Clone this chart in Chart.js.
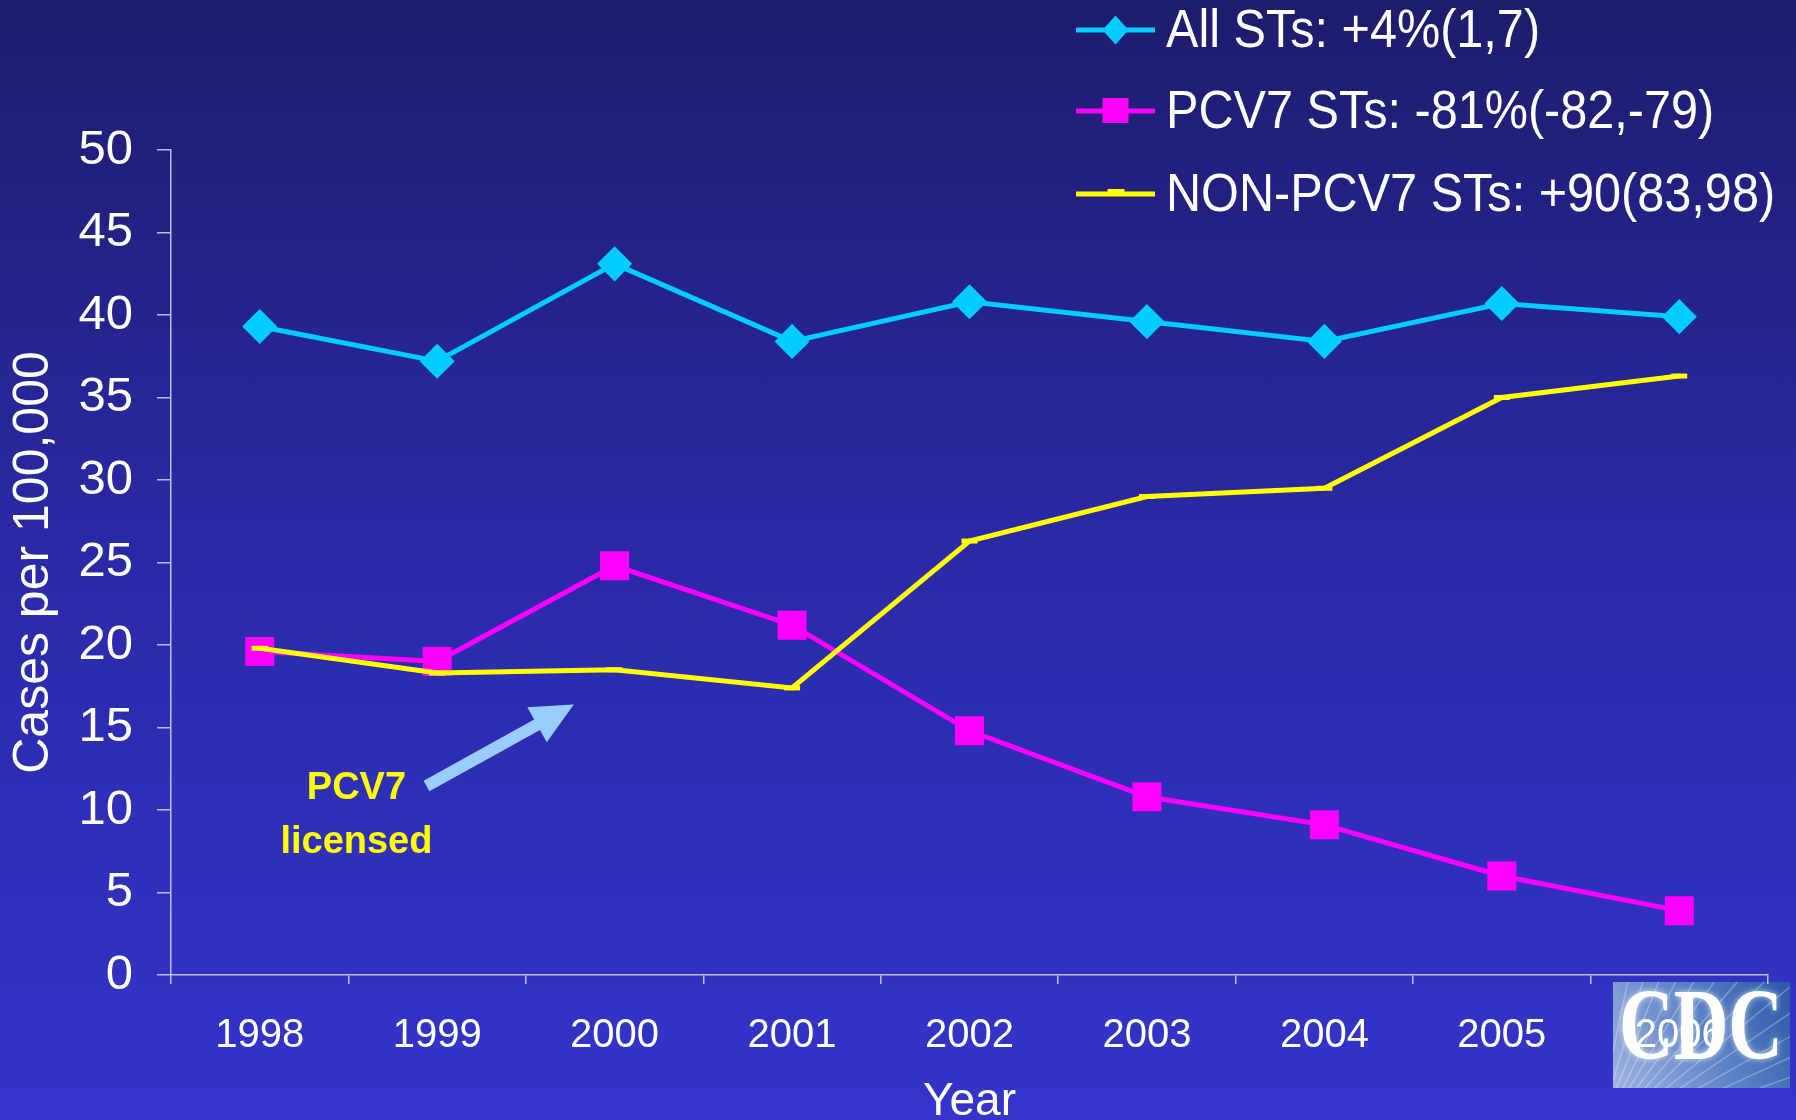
<!DOCTYPE html>
<html>
<head>
<meta charset="utf-8">
<title>Invasive pneumococcal disease, 1998-2006</title>
<script src="https://cdn.jsdelivr.net/npm/chart.js@4.4.1/dist/chart.umd.min.js"></script>
<style>
  html, body { margin: 0; padding: 0; }
  body {
    width: 1796px;
    height: 1120px;
    overflow: hidden;
    background: linear-gradient(#1e1c6c 0%, #2a2aa8 50%, #3434cb 100%);
  }
  #chart { display: block; }
</style>
</head>
<body>
<canvas id="chart" width="1796" height="1120"></canvas>
<script>
// rates per 100,000 by year
const years = ['1998', '1999', '2000', '2001', '2002', '2003', '2004', '2005', '2006'];
const allSTs = [39.3, 37.2, 43.1, 38.4, 40.8, 39.6, 38.4, 40.7, 39.9];
const pcv7STs = [19.6, 19.0, 24.8, 21.2, 14.8, 10.8, 9.1, 6.0, 3.9];
const nonPcv7STs = [19.8, 18.3, 18.5, 17.4, 26.3, 29.0, 29.5, 35.0, 36.3];
const seriesNames = ['All STs: +4%(1,7)', 'PCV7 STs: -81%(-82,-79)', 'NON-PCV7 STs: +90(83,98)'];
const yMin = 0, yMax = 50, yStep = 5;

const axisColor = 'rgba(215, 215, 240, 0.85)';
const font = '"Liberation Sans", Arial, sans-serif';

// legend stacked in the top right corner, drawn over the plot
const sideLegend = {
  id: 'sideLegend',
  afterDatasetsDraw(chart) {
    const ctx = chart.ctx;
    const x0 = 1076, lineLen = 79, textX = 1166;
    const rows = [30, 111, 194];
    chart.data.datasets.forEach((ds, i) => {
      const y = rows[i];
      ctx.save();
      ctx.strokeStyle = ds.borderColor;
      ctx.lineWidth = 5;
      ctx.beginPath();
      ctx.moveTo(x0, y);
      ctx.lineTo(x0 + lineLen, y);
      ctx.stroke();
      const cx = x0 + lineLen / 2;
      ctx.fillStyle = ds.pointBackgroundColor;
      if (ds.pointStyle === 'rectRot') {
        ctx.beginPath();
        ctx.moveTo(cx, y - 14.5);
        ctx.lineTo(cx + 13, y);
        ctx.lineTo(cx, y + 14.5);
        ctx.lineTo(cx - 13, y);
        ctx.closePath();
        ctx.fill();
      } else if (ds.pointStyle === 'rect') {
        ctx.fillRect(cx - 13, y - 13, 26, 25);
      } else {
        ctx.fillRect(cx - 8, y - 5, 17, 6);
      }
      ctx.fillStyle = '#ffffff';
      ctx.font = '54px ' + font;
      ctx.textBaseline = 'middle';
      ctx.translate(textX, y + 2);
      ctx.scale(0.9, 1);
      ctx.fillText(ds.label, 0, 0);
      ctx.restore();
    });
  }
};

// arrow and caption marking the vaccine licensing
const licenseNote = {
  id: 'licenseNote',
  afterDatasetsDraw(chart) {
    const { ctx, scales: { x, y } } = chart;
    const tx = x.getPixelForValue(1.77), ty = y.getPixelForValue(16.4);
    const fx = x.getPixelForValue(0.94), fy = y.getPixelForValue(11.45);
    const ang = Math.atan2(ty - fy, tx - fx);
    const headLen = 42, headHalf = 20, shaftHalf = 6;
    ctx.save();
    ctx.translate(fx, fy);
    ctx.rotate(ang);
    const len = Math.hypot(tx - fx, ty - fy);
    ctx.fillStyle = '#99ccff';
    ctx.beginPath();
    ctx.moveTo(0, -shaftHalf);
    ctx.lineTo(len - headLen, -shaftHalf);
    ctx.lineTo(len - headLen, -headHalf);
    ctx.lineTo(len, 0);
    ctx.lineTo(len - headLen, headHalf);
    ctx.lineTo(len - headLen, shaftHalf);
    ctx.lineTo(0, shaftHalf);
    ctx.closePath();
    ctx.fill();
    ctx.restore();

    ctx.save();
    ctx.fillStyle = '#ffff00';
    ctx.font = 'bold 38px ' + font;
    ctx.textAlign = 'center';
    ctx.textBaseline = 'middle';
    const lx = x.getPixelForValue(0.545);
    ctx.fillText('PCV7', lx, y.getPixelForValue(11.3));
    ctx.fillText('licensed', lx, y.getPixelForValue(8.05));
    ctx.restore();
  }
};

// agency logo in the bottom right corner, under the last year label
const cdcLogo = {
  id: 'cdcLogo',
  beforeDraw(chart) {
    const ctx = chart.ctx;
    const lx = 1613, ly = 982, lw = 177, lh = 106;
    ctx.save();
    ctx.beginPath();
    ctx.rect(lx, ly, lw, lh);
    ctx.clip();
    const g = ctx.createLinearGradient(lx, ly + lh, lx + lw, ly);
    g.addColorStop(0, '#9fb4e0');
    g.addColorStop(0.5, '#5f84c8');
    g.addColorStop(1, '#2a58a6');
    ctx.fillStyle = g;
    ctx.fillRect(lx, ly, lw, lh);
    ctx.strokeStyle = 'rgba(255,255,255,0.28)';
    ctx.lineWidth = 1.5;
    const ox = lx - 20, oy = ly + lh + 60;
    for (let a = -1.45; a < -0.1; a += 0.085) {
      ctx.beginPath();
      ctx.moveTo(ox, oy);
      ctx.lineTo(ox + Math.cos(a) * 400, oy + Math.sin(a) * 400);
      ctx.stroke();
    }
    ctx.fillStyle = '#ffffff';
    ctx.shadowColor = 'rgba(255,255,255,0.7)';
    ctx.shadowBlur = 6;
    ctx.font = 'bold 86px "Liberation Serif", "DejaVu Serif", serif';
    ctx.textBaseline = 'alphabetic';
    ctx.translate(lx + 6, ly + 77);
    ctx.scale(0.88, 1.18);
    ctx.fillText('CDC', 0, 0);
    ctx.restore();
  }
};

new Chart(document.getElementById('chart'), {
  type: 'line',
  data: {
    labels: years,
    datasets: [
      {
        label: seriesNames[0],
        data: allSTs,
        borderColor: '#00ccff',
        backgroundColor: '#00ccff',
        pointBackgroundColor: '#00ccff',
        pointBorderColor: '#00ccff',
        pointStyle: 'rectRot',
        pointRadius: 14,
        borderWidth: 5,
        order: 2
      },
      {
        label: seriesNames[1],
        data: pcv7STs,
        borderColor: '#ff00ff',
        backgroundColor: '#ff00ff',
        pointBackgroundColor: '#ff00ff',
        pointBorderColor: '#ff00ff',
        pointStyle: 'rect',
        pointRadius: 17,
        borderWidth: 5,
        order: 1
      },
      {
        label: seriesNames[2],
        data: nonPcv7STs,
        borderColor: '#ffff00',
        backgroundColor: '#ffff00',
        pointBackgroundColor: '#ffff00',
        pointBorderColor: '#ffff00',
        pointStyle: 'line',
        pointRadius: 8,
        pointBorderWidth: 5,
        borderWidth: 5,
        order: 0
      }
    ]
  },
  options: {
    responsive: false,
    animation: false,
    layout: { padding: { top: 150, right: 28, left: 0, bottom: 0 } },
    plugins: {
      legend: { display: false },
      tooltip: { enabled: false }
    },
    scales: {
      x: {
        offset: true,
        grid: {
          offset: true,
          drawOnChartArea: false,
          color: axisColor,
          lineWidth: 1.5,
          tickLength: 9
        },
        border: { color: axisColor, width: 1.5 },
        ticks: {
          color: '#ffffff',
          font: { family: font, size: 40 },
          padding: 28,
          maxRotation: 0
        },
        title: {
          display: true,
          text: 'Year',
          color: '#ffffff',
          font: { family: font, size: 46 },
          padding: { top: 0, bottom: -10 }
        },
        afterFit(scale) { scale.height = 145; }
      },
      y: {
        min: yMin,
        max: yMax,
        grid: {
          drawOnChartArea: false,
          color: axisColor,
          lineWidth: 1.5,
          tickLength: 14
        },
        border: { color: axisColor, width: 1.5 },
        ticks: {
          stepSize: yStep,
          color: '#ffffff',
          font: { family: font, size: 49 },
          padding: 24
        },
        title: {
          display: true,
          text: 'Cases per 100,000',
          color: '#ffffff',
          font: { family: font, size: 50 },
          padding: { top: 4, bottom: 0 }
        },
        afterFit(scale) { scale.width = 171; }
      }
    }
  },
  plugins: [cdcLogo, licenseNote, sideLegend]
});
</script>
</body>
</html>
